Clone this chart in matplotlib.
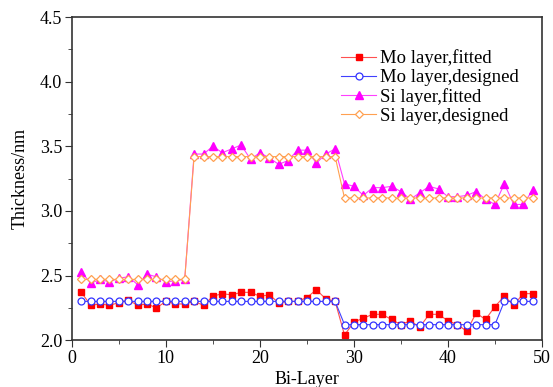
import matplotlib.pyplot as plt
from matplotlib.ticker import MultipleLocator

plt.rcParams['font.family'] = ['Liberation Serif', 'DejaVu Serif']

bilayer = list(range(1, 50))

mo_fitted = [2.37, 2.27, 2.28, 2.27, 2.29, 2.31, 2.27, 2.28, 2.25, 2.30,
             2.28, 2.28, 2.30, 2.27, 2.34, 2.36, 2.35, 2.37, 2.37, 2.34,
             2.35, 2.29, 2.30, 2.30, 2.33, 2.39, 2.32, 2.30, 2.04, 2.14,
             2.17, 2.20, 2.20, 2.16, 2.12, 2.15, 2.10, 2.20, 2.20, 2.15,
             2.12, 2.07, 2.21, 2.16, 2.26, 2.34, 2.27, 2.36, 2.36]
mo_designed = [2.30] * 28 + [2.12] * 17 + [2.30] * 4
si_fitted = [2.53, 2.44, 2.47, 2.45, 2.48, 2.49, 2.43, 2.51, 2.49, 2.45,
             2.46, 2.47, 3.44, 3.44, 3.50, 3.45, 3.48, 3.51, 3.40, 3.45,
             3.41, 3.36, 3.39, 3.47, 3.47, 3.37, 3.44, 3.48, 3.21, 3.19,
             3.12, 3.18, 3.18, 3.19, 3.15, 3.09, 3.14, 3.19, 3.17, 3.11,
             3.11, 3.12, 3.15, 3.09, 3.05, 3.21, 3.05, 3.05, 3.16]
si_designed = [2.47] * 12 + [3.42] * 16 + [3.10] * 21

fig = plt.figure(figsize=(5.53, 3.87), dpi=100)
ax = fig.add_axes([0.130, 0.121, 0.850, 0.835])

ax.plot(bilayer, mo_fitted, color='#ff5050', lw=0.8, marker='s', ms=4.5,
        mfc='#ff0000', mec='#ff0000', label='Mo layer,fitted')
ax.plot(bilayer, mo_designed, color='#4040ff', lw=0.8, marker='o', ms=5,
        mfc='white', mec='#3333ff', mew=0.9, label='Mo layer,designed')
ax.plot(bilayer, si_fitted, color='#ff40ff', lw=0.8, marker='^', ms=5.5,
        mfc='#ff00ff', mec='#ff00ff', label='Si layer,fitted')
ax.plot(bilayer, si_designed, color='#ffa050', lw=0.8, marker='D', ms=4.5,
        mfc='white', mec='#ffa050', mew=0.9, label='Si layer,designed')

ax.set_xlim(0, 50)
ax.set_ylim(2.0, 4.5)
ax.xaxis.set_major_locator(MultipleLocator(10))
ax.xaxis.set_minor_locator(MultipleLocator(5))
ax.yaxis.set_major_locator(MultipleLocator(0.5))
ax.yaxis.set_minor_locator(MultipleLocator(0.25))
ax.yaxis.set_major_formatter(plt.FormatStrFormatter('%.1f'))
ax.tick_params(which='both', direction='out', top=False, right=False,
               labelsize=13, colors='#333333', labelcolor='black')
ax.tick_params(which='major', length=5, pad=2)
ax.tick_params(which='minor', length=3)
for s in ax.spines.values():
    s.set_linewidth(1.2)
    s.set_color('#333333')

ax.set_xlabel('Bi-Layer', fontsize=13, labelpad=3)
ax.set_ylabel('Thickness/nm', fontsize=13, labelpad=8)

ax.legend(loc='upper left', bbox_to_anchor=(0.572, 0.90), frameon=False,
          fontsize=13.5, handlelength=1.9, labelspacing=0.1, borderaxespad=0,
          borderpad=0, handletextpad=0.2)

fig.savefig('out.png', dpi=100)
